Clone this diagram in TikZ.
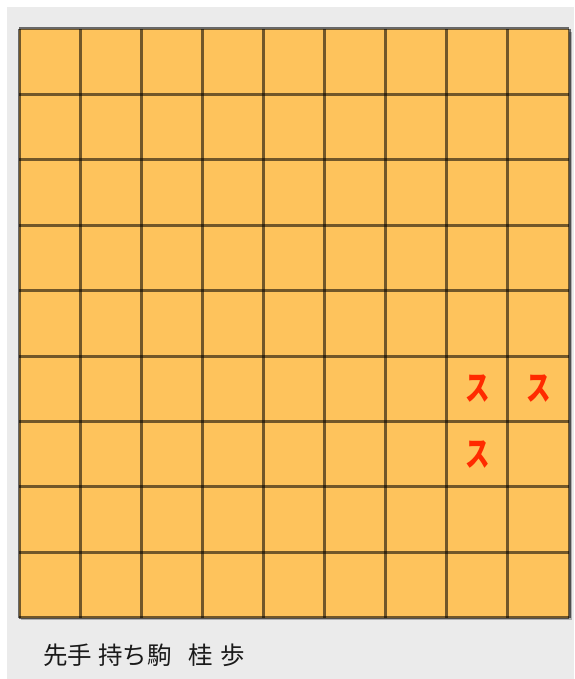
\documentclass[tikz,border=0pt]{standalone}
\usepackage{fontspec}
\newfontfamily\jpfont{Noto Sans CJK JP}
\definecolor{boardfill}{HTML}{FEC35C}
\definecolor{bggray}{HTML}{EBEBEB}
\definecolor{markred}{HTML}{FF2A00}
\definecolor{captxt}{HTML}{1A1A1A}
\tikzset{
  gridline/.style={draw=black, draw opacity=0.55, line width=3pt},
  markglyph/.style={text=markred, inner sep=0pt, font=\jpfont\bfseries\fontsize{34}{34}\selectfont, xscale=0.72},
  caption/.style={text=captxt, inner sep=0pt, anchor=west, font=\jpfont\fontsize{24.5}{24.5}\selectfont}
}
\begin{document}
\begin{tikzpicture}[x=1pt,y=-1pt]
\useasboundingbox (0,0) rectangle (574,679);
\fill[bggray] (7,7) rectangle (574,679);
% shadow
\fill[black, opacity=0.25] (21,32) rectangle (571.5,620);
\fill[boardfill] (19,29) rectangle (569,617.6);
\foreach \i in {0,...,9} {
  \draw[gridline] ({19+61.11*\i},29) -- ({19+61.11*\i},617.6);
}
\foreach \j in {0,...,9} {
  \draw[gridline] (19,{29+65.4*\j}) -- (569,{29+65.4*\j});
}
\node[markglyph] (m1) at (477.3,388.7) {ス};
\node[markglyph] (m2) at (538.4,388.7) {ス};
\node[markglyph] (m3) at (477.3,454.1) {ス};
\node[caption] (cap) at (43,655) {先手\hspace{6pt}持ち駒\hspace{17pt}桂\hspace{7pt}歩};
\end{tikzpicture}
\end{document}
